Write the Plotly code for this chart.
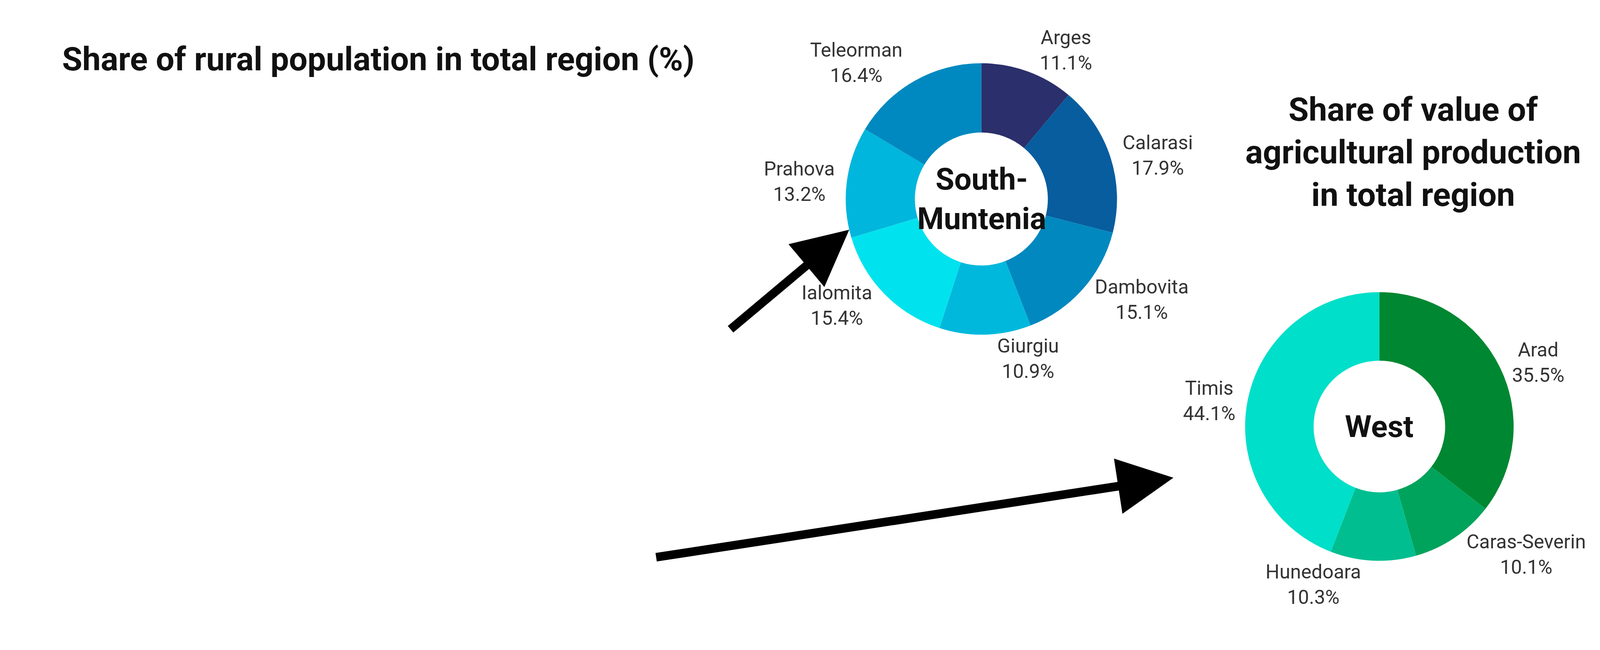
import plotly.graph_objects as go

regions = ["NORTH-WEST","CENTER","NORTH-EAST","SOUTH-EAST","SOUTH MUNTENIA","Bucharest - ILFOV","SOUTH-WEST OLTENIA","WEST"]
rural = [47.3,42.6,57.8,46.7,60.3,11.5,53.5,39.3]
rural_txt = [f"{v:.1f}".replace(".", ",") for v in rural]

sm_names = ["Arges","Calarasi","Dambovita","Giurgiu","Ialomita","Prahova","Teleorman"]
sm_vals = [11.1,17.9,15.1,10.9,15.4,13.2,16.4]
sm_cols = ["#2b2f6b","#075d9e","#0088bf","#00b8dc","#00e3ee","#00b6dc","#0089c0"]

w_names = ["Arad","Caras-Severin","Hunedoara","Timis"]
w_vals = [35.5,10.1,10.3,44.1]
w_cols = ["#008731","#00a35c","#00be90","#00dfc9"]

fig = go.Figure()
fig.add_trace(go.Bar(y=regions, x=rural, base=[-v/2 for v in rural], orientation="h",
    marker_color="#1673c8", width=0.87, text=rural_txt, textposition="inside",
    insidetextanchor="middle", textfont=dict(family="Liberation Serif", size=40, color="#111", weight="bold"),
    showlegend=False))

def pie(names, vals, cols, dom):
    return go.Pie(labels=names, values=vals, marker=dict(colors=cols), hole=0.49, sort=False,
        direction="clockwise", rotation=0, domain=dom, textposition="outside",
        texttemplate="%{label}<br>%{value:.1f}%", textfont=dict(family="Roboto", size=50, color="#333"),
        showlegend=False)

fig.add_trace(pie(sm_names, sm_vals, sm_cols, dict(x=[0.527,0.697], y=[0.476,0.905])))
fig.add_trace(pie(w_names, w_vals, w_cols, dict(x=[0.777,0.945], y=[0.118,0.544])))

fig.update_layout(width=4092, height=1619, margin=dict(l=0,r=0,t=0,b=0),
    plot_bgcolor="white", paper_bgcolor="white", bargap=0,
    xaxis=dict(domain=[185/1568, 727/1568], range=[-30.3,30.3], visible=False),
    yaxis=dict(domain=[0.096,0.807], autorange="reversed", showline=True, linecolor="#ddd", linewidth=3,
        ticks="", ticklabelstandoff=25,
        tickfont=dict(family="Liberation Serif", size=39, color="#222", weight="bold"),
        showgrid=False),
    xaxis2=dict(domain=[0,1], range=[0,1568], visible=False, anchor="y2"),
    yaxis2=dict(domain=[0,1], range=[620,0], visible=False, anchor="x2"),
)
fig.add_trace(go.Scatter(x=[0], y=[0], xaxis="x2", yaxis="y2", mode="markers", marker_opacity=0,
    showlegend=False, hoverinfo="skip"))

def txt(t, x, y, size):
    fig.add_annotation(text=t, xref="paper", yref="paper", x=x/1568, y=1-y/620,
        xanchor="center", yanchor="middle", showarrow=False,
        font=dict(family="Roboto", size=size, color="#111"))

txt("<b>Share of rural population in total region (%)</b>", 368, 55, 84)
txt("<b>Share of value of<br>agricultural production<br>in total region</b>", 1383, 146, 84)
txt("<b>South-<br>Muntenia</b>", 960, 192, 78)
txt("<b>West</b>", 1350, 415, 78)
for (tx,ty,hx,hy) in [(713,320,830,222),(640,543,1148,465)]:
    fig.add_annotation(x=hx, y=hy, ax=tx, ay=ty, xref="x2", yref="y2", axref="x2", ayref="y2",
        showarrow=True, arrowhead=2, arrowsize=1.3, arrowwidth=22, arrowcolor="#000", text="")
fig.write_html("out.html")
